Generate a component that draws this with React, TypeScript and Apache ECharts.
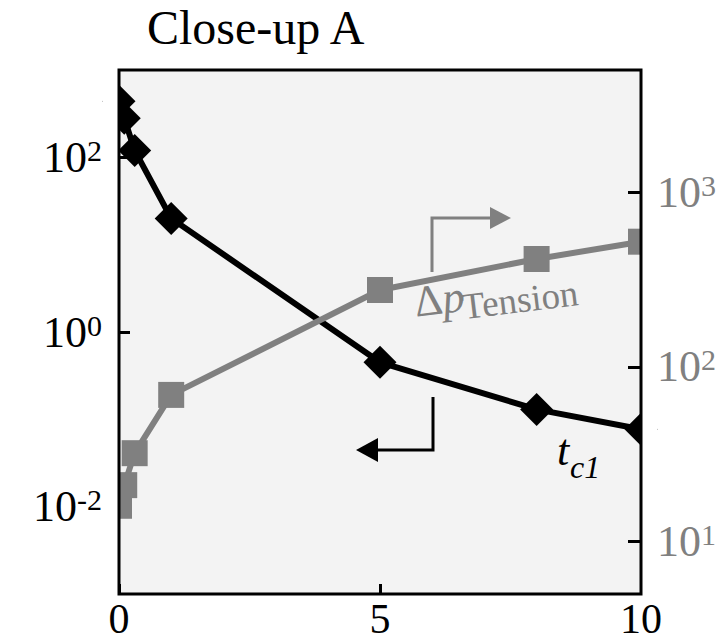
import React, { useEffect, useRef } from 'react';
import * as echarts from 'echarts';

// ---- data ----
const xValues = [0, 0.1, 0.3, 1, 5, 8, 10];
const tc1Values = [440, 280, 120, 20, 0.45, 0.13, 0.077];
const dpTensionValues = [16, 21, 32, 69, 275, 414, 520];
const xTicks = [0, 5, 10];
const leftTicks = [0.01, 1, 100];
const rightTicks = [10, 100, 1000];
const titleText = 'Close-up A';
const tc1Label = ['t', 'c1'];
const dpLabel = ['Δ', 'p', 'Tension'];

const SERIF = 'Liberation Serif, serif';
const GREY = '#808080';
const GRID = { left: 119, top: 70, width: 522, height: 524 };

const isTick = (v: number, list: number[]) =>
  list.some((t) => Math.abs(Math.log10(v) - Math.log10(t)) < 1e-6);

const powLabel = (v: number) => {
  const e = Math.round(Math.log10(v));
  return `{b|10}{sup|${e}}`;
};

const richFor = (color: string) => ({
  b: { fontSize: 44, fontFamily: SERIF, lineHeight: 44, color },
  sup: { fontSize: 30, fontFamily: SERIF, lineHeight: 35, verticalAlign: 'top', color },
});

// y offset of a 'middle'-aligned text so that its baseline lands at 0
const mid = (fs: number) => -0.3375 * fs;

export default function App() {
  const ref = useRef<HTMLDivElement>(null);

  useEffect(() => {
    if (!ref.current) return;
    const chart = echarts.init(ref.current, null, { renderer: 'svg' });
    const right = GRID.left + GRID.width;
    const bottom = GRID.top + GRID.height;

    chart.setOption({
      animation: false,
      title: {
        text: titleText,
        left: 147,
        top: 3,
        padding: 0,
        textStyle: { fontFamily: SERIF, fontSize: 48, fontWeight: 'normal', color: '#000', lineHeight: 48 },
      },
      grid: {
        left: GRID.left,
        top: GRID.top,
        width: GRID.width,
        height: GRID.height,
        show: true,
        backgroundColor: '#f3f3f3',
        borderWidth: 0,
        containLabel: false,
        outerBoundsMode: 'none',
      },
      xAxis: {
        type: 'value',
        min: xTicks[0],
        max: xTicks[xTicks.length - 1],
        interval: 5,
        axisLine: { show: false },
        axisTick: { show: true, inside: true, length: 10, lineStyle: { color: '#000', width: 3 } },
        axisLabel: {
          show: true,
          margin: 7,
          fontFamily: SERIF,
          fontSize: 42,
          lineHeight: 36,
          color: '#000',
          formatter: (v: number) => String(v),
        },
        splitLine: { show: false },
      },
      yAxis: [
        {
          type: 'log',
          logBase: 10,
          min: 0.001,
          max: 1000,
          position: 'left',
          axisLine: { show: false },
          axisTick: {
            show: true,
            inside: true,
            length: 11,
            customValues: leftTicks,
            lineStyle: { color: '#000', width: 3 },
          },
          axisLabel: {
            show: true,
            margin: 17,
            customValues: leftTicks,
            formatter: (v: number) => (isTick(v, leftTicks) ? powLabel(v) : ''),
            rich: richFor('#000'),
          },
          splitLine: { show: false },
        },
        {
          type: 'log',
          logBase: 10,
          min: 5,
          max: 5000,
          position: 'right',
          axisLine: { show: false },
          axisTick: {
            show: true,
            inside: true,
            length: 13,
            customValues: rightTicks,
            lineStyle: { color: '#000', width: 3 },
          },
          axisLabel: {
            show: true,
            margin: 16,
            customValues: rightTicks,
            formatter: (v: number) => (isTick(v, rightTicks) ? powLabel(v) : ''),
            rich: richFor(GREY),
          },
          splitLine: { show: false },
        },
      ],
      series: [
        {
          name: 't_c1',
          type: 'line',
          yAxisIndex: 0,
          clip: false,
          data: xValues.map((x, i) => [x, tc1Values[i]]),
          symbol: 'diamond',
          symbolSize: 33,
          lineStyle: { color: '#000', width: 6 },
          itemStyle: { color: '#000' },
          z: 2,
        },
        {
          name: 'Δp_Tension',
          type: 'line',
          yAxisIndex: 1,
          clip: false,
          data: xValues.map((x, i) => [x, dpTensionValues[i]]),
          symbol: 'rect',
          symbolSize: 26,
          lineStyle: { color: GREY, width: 6 },
          itemStyle: { color: GREY },
          z: 3,
        },
      ],
      graphic: [
        // masks so that markers are clipped at the axes frame
        {
          type: 'rect',
          silent: true,
          z: 100,
          shape: { x: 103, y: GRID.top - 2, width: GRID.left - 103, height: GRID.height + 4 },
          style: { fill: '#fff' },
        },
        {
          type: 'rect',
          silent: true,
          z: 100,
          shape: { x: right, y: GRID.top - 2, width: 16, height: GRID.height + 4 },
          style: { fill: '#fff' },
        },
        // frame
        {
          type: 'rect',
          silent: true,
          z: 101,
          shape: { x: GRID.left, y: GRID.top, width: GRID.width, height: bottom - GRID.top },
          style: { fill: 'none', stroke: '#000', lineWidth: 3 },
        },
        // grey arrow (-> right axis)
        {
          type: 'polyline',
          silent: true,
          z: 50,
          shape: { points: [[432, 272], [432, 218], [492, 218]] },
          style: { fill: 'none', stroke: GREY, lineWidth: 3 },
        },
        {
          type: 'polygon',
          silent: true,
          z: 50,
          shape: { points: [[490, 207], [511, 218], [490, 229]] },
          style: { fill: GREY },
        },
        // black arrow (<- left axis)
        {
          type: 'polyline',
          silent: true,
          z: 50,
          shape: { points: [[433, 397], [433, 450], [376, 450]] },
          style: { fill: 'none', stroke: '#000', lineWidth: 3 },
        },
        {
          type: 'polygon',
          silent: true,
          z: 50,
          shape: { points: [[378, 438], [356, 450], [378, 462]] },
          style: { fill: '#000' },
        },
        // Δp_Tension label (rotated group, baseline at the group's origin)
        {
          type: 'group',
          x: 416,
          y: 317,
          rotation: (7 * Math.PI) / 180,
          z: 50,
          children: [
            {
              type: 'text',
              silent: true,
              x: 0,
              y: mid(44),
              style: {
                text: `{d|${dpLabel[0]}}{p|${dpLabel[1]}}`,
                textAlign: 'left',
                textVerticalAlign: 'middle',
                fill: GREY,
                rich: {
                  d: { fontSize: 44, fontFamily: SERIF, fill: GREY, color: GREY },
                  p: { fontSize: 44, fontFamily: SERIF, fontStyle: 'italic', fill: GREY, color: GREY },
                },
              },
            },
            {
              type: 'text',
              silent: true,
              x: 47,
              y: 8 + mid(37),
              style: {
                text: dpLabel[2],
                textAlign: 'left',
                textVerticalAlign: 'middle',
                fill: GREY,
                fontSize: 37,
                fontFamily: SERIF,
              },
            },
          ],
        },
        // t_c1 label
        {
          type: 'text',
          silent: true,
          z: 50,
          x: 557,
          y: 465 + mid(44),
          style: {
            text: tc1Label[0],
            textAlign: 'left',
            textVerticalAlign: 'middle',
            fill: '#000',
            fontSize: 44,
            fontFamily: SERIF,
            fontStyle: 'italic',
          },
        },
        {
          type: 'text',
          silent: true,
          z: 50,
          x: 570,
          y: 478 + mid(32),
          style: {
            text: tc1Label[1],
            textAlign: 'left',
            textVerticalAlign: 'middle',
            fill: '#000',
            fontSize: 32,
            fontFamily: SERIF,
            fontStyle: 'italic',
          },
        },
      ],
    });

    return () => chart.dispose();
  }, []);

  return (
    <div
      ref={ref}
      style={{ position: 'absolute', left: 0, top: 0, width: 722, height: 643, background: '#fff' }}
    />
  );
}
